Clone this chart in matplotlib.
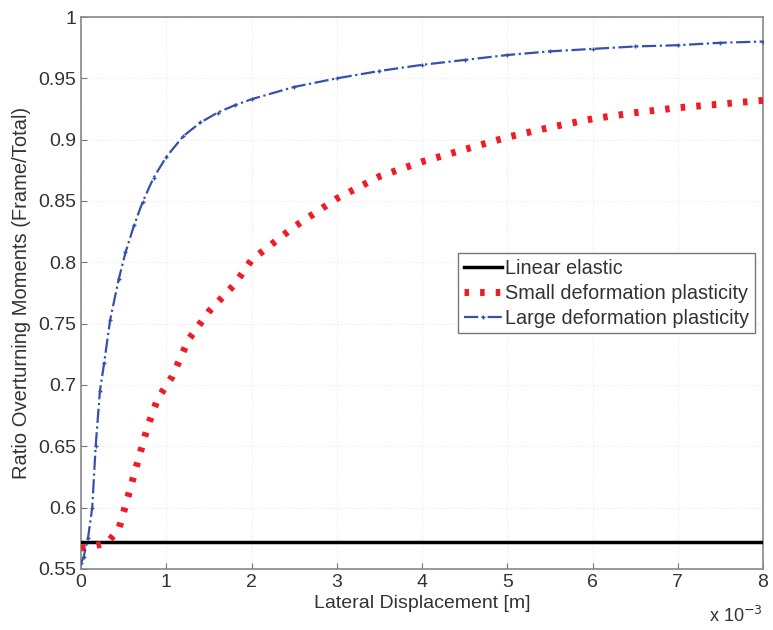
import numpy as np
import matplotlib
matplotlib.use("Agg")
import matplotlib.pyplot as plt
from matplotlib.ticker import FuncFormatter

# === Datos (desplazamiento en mm -> se convierte a m) ===
x_large_mm = [0, 0.03, 0.08, 0.13, 0.17, 0.22, 0.27, 0.34, 0.44, 0.52, 0.62, 0.72,
              0.85, 1.0, 1.2, 1.4, 1.6, 1.8, 2.0, 2.5, 3.0, 3.5, 4.0, 4.5, 5.0,
              5.5, 6.0, 6.5, 7.0, 7.5, 8.0]
y_large = [0.555, 0.56, 0.575, 0.60, 0.65, 0.695, 0.718, 0.753, 0.786, 0.808, 0.830, 0.849,
           0.869, 0.886, 0.903, 0.914, 0.922, 0.928, 0.933, 0.943, 0.950, 0.956, 0.961, 0.965, 0.969,
           0.972, 0.974, 0.976, 0.977, 0.979, 0.980]

x_small_mm = [0, 0.1, 0.3, 0.44, 0.55, 0.67, 0.78, 0.9, 1.07, 1.26, 1.5, 1.8, 2.0,
              2.5, 3.0, 3.5, 4.0, 4.5, 5.0, 5.5, 6.0, 6.5, 7.0, 7.5, 8.0]
y_small = [0.567, 0.568, 0.571, 0.582, 0.609, 0.639, 0.666, 0.689, 0.707, 0.737, 0.760, 0.782, 0.802,
           0.829, 0.852, 0.870, 0.882, 0.892, 0.902, 0.910, 0.917, 0.922, 0.926, 0.929, 0.932]

x_elastic_mm = [0, 8.0]
y_elastic = [0.572, 0.572]

x_large = np.array(x_large_mm) * 1e-3
x_small = np.array(x_small_mm) * 1e-3
x_elastic = np.array(x_elastic_mm) * 1e-3

xticks = np.arange(0, 9) * 1e-3
yticks = np.arange(0.55, 1.001, 0.05)

# === Figura ===
plt.rcParams['font.family'] = ['Liberation Sans', 'DejaVu Sans']
fig = plt.figure(figsize=(7.73, 6.30), dpi=100)
ax = fig.add_axes([0.105, 0.097, 0.882, 0.876])

ax.plot(x_elastic, y_elastic, color='black', lw=2.5, label='Linear elastic', zorder=3)
ax.plot(x_small, y_small, color='#ee1c25', lw=5, dashes=(0.65, 1.6),
        dash_capstyle='butt', label='Small deformation plasticity', zorder=4)
ax.plot(x_large, y_large, color='#3552ab', lw=1.6, ls='-.', marker='+', ms=3, mew=1,
        label='Large deformation plasticity', zorder=5)

ax.set_xlim(0, 8e-3)
ax.set_ylim(0.55, 1.0)
ax.set_xticks(xticks)
ax.set_yticks(yticks)
ax.xaxis.set_major_formatter(FuncFormatter(lambda v, p: f"{v * 1e3:g}"))
ax.yaxis.set_major_formatter(FuncFormatter(lambda v, p: f"{v:g}"))
ax.tick_params(direction='in', length=4, labelsize=14, colors='#777777', labelcolor='#333333')
ax.grid(True, color='#e8e8e8', lw=0.8, ls=':')
for s in ax.spines.values():
    s.set_color('#888888')
    s.set_linewidth(1.2)

ax.set_xlabel('Lateral Displacement [m]', fontsize=14, color='#333333', labelpad=3)
ax.set_ylabel('Ratio Overturning Moments (Frame/Total)', fontsize=14.5, color='#333333', labelpad=5)
ax.text(1.0, -0.085, r'x 10$^{-3}$', transform=ax.transAxes, ha='right', va='center',
        fontsize=13, color='#333333')

leg = ax.legend(loc='upper right', bbox_to_anchor=(0.988, 0.573), fontsize=14.3,
                handlelength=1.9, handletextpad=0.15, borderpad=0.3, labelspacing=0.3,
                fancybox=False, framealpha=1, edgecolor='#777777', borderaxespad=0)
for t in leg.get_texts():
    t.set_color('#333333')

fig.savefig('out.png', dpi=100)
